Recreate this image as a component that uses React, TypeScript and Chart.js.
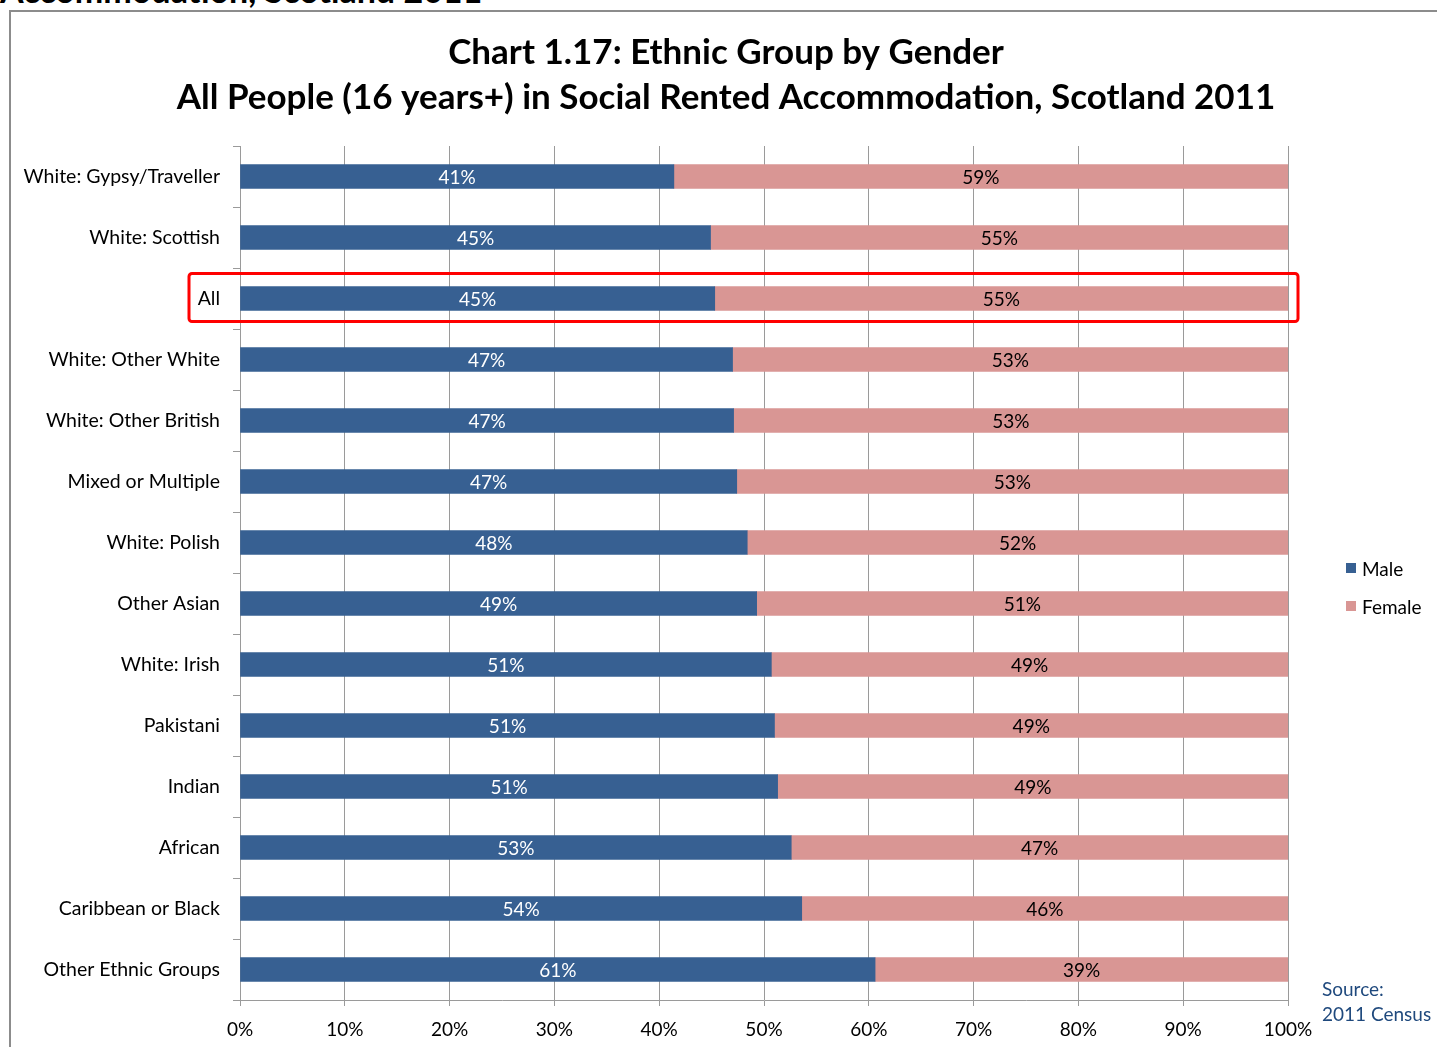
import React, { useEffect, useRef } from "react";
import { Chart, registerables } from "chart.js";

Chart.register(...registerables);

const categories = [
  "White: Gypsy/Traveller",
  "White: Scottish",
  "All",
  "White: Other White",
  "White: Other British",
  "Mixed or Multiple",
  "White: Polish",
  "Other Asian",
  "White: Irish",
  "Pakistani",
  "Indian",
  "African",
  "Caribbean or Black",
  "Other Ethnic Groups",
];
const maleValues = [41.4, 44.9, 45.3, 47.0, 47.1, 47.4, 48.4, 49.3, 50.7, 51.0, 51.3, 52.6, 53.6, 60.6];
const femaleValues = [58.6, 55.1, 54.7, 53.0, 52.9, 52.6, 51.6, 50.7, 49.3, 49.0, 48.7, 47.4, 46.4, 39.4];
const seriesNames = ["Male", "Female"];
const seriesColors = ["#376092", "#D99694"];
const labelColors = ["#FFFFFF", "#000000"];
const highlightCategory = "All";
const titleLines = [
  "Chart 1.17: Ethnic Group by Gender",
  "All People (16 years+) in Social Rented Accommodation, Scotland 2011",
];
const FONT = "Lato, 'Noto Sans', sans-serif";

const valueLabelPlugin = {
  id: "valueLabels",
  afterDatasetsDraw(chart: any) {
    const ctx = chart.ctx;
    ctx.save();
    ctx.font = `19px ${FONT}`;
    ctx.textAlign = "center";
    ctx.textBaseline = "middle";
    chart.data.datasets.forEach((ds: any, di: number) => {
      const meta = chart.getDatasetMeta(di);
      meta.data.forEach((el: any, i: number) => {
        const v = ds.data[i];
        const cx = (el.x + el.base) / 2;
        ctx.fillStyle = labelColors[di];
        ctx.fillText(Math.round(v) + "%", cx, el.y + 1);
      });
    });
    ctx.restore();
  },
};

const highlightPlugin = {
  id: "highlight",
  afterDraw(chart: any) {
    const idx = categories.indexOf(highlightCategory);
    if (idx < 0) return;
    const y = chart.scales.y.getPixelForValue(idx);
    const area = chart.chartArea;
    const ctx = chart.ctx;
    const x0 = area.left - 51;
    const x1 = area.right + 10;
    const y0 = y - 25;
    const y1 = y + 23;
    ctx.save();
    ctx.strokeStyle = "#FF0000";
    ctx.lineWidth = 3;
    ctx.beginPath();
    if (ctx.roundRect) ctx.roundRect(x0, y0, x1 - x0, y1 - y0, 3);
    else ctx.rect(x0, y0, x1 - x0, y1 - y0);
    ctx.stroke();
    ctx.restore();
  },
};

export default function App() {
  const canvasRef = useRef<HTMLCanvasElement | null>(null);

  useEffect(() => {
    if (!canvasRef.current) return;
    const chart = new Chart(canvasRef.current, {
      type: "bar",
      data: {
        labels: categories,
        datasets: [
          {
            label: seriesNames[0],
            data: maleValues,
            backgroundColor: seriesColors[0],
            barThickness: 24,
          },
          {
            label: seriesNames[1],
            data: femaleValues,
            backgroundColor: seriesColors[1],
            barThickness: 24,
          },
        ],
      },
      options: {
        indexAxis: "y",
        responsive: false,
        animation: false,
        layout: { padding: { left: 15, right: 0, top: 0, bottom: 0 } },
        plugins: {
          legend: { display: false },
          tooltip: { enabled: false },
          title: {
            display: true,
            text: titleLines,
            color: "#000000",
            font: { family: FONT, size: 35, weight: "bold", lineHeight: 45 / 35 },
            padding: { top: 30, bottom: 26 },
          },
        },
        scales: {
          x: {
            stacked: true,
            min: 0,
            max: 100,
            ticks: {
              stepSize: 10,
              callback: (v: any) => v + "%",
              color: "#000000",
              font: { family: FONT, size: 19 },
              padding: 12,
              maxRotation: 0,
            },
            grid: { color: "#9A9A9A", lineWidth: 1, tickLength: 6, drawTicks: true },
            border: { color: "#9A9A9A", width: 1 },
            afterFit: (scale: any) => {
              scale.height = 47;
            },
          },
          y: {
            stacked: true,
            ticks: {
              color: "#000000",
              font: { family: FONT, size: 19.5 },
              padding: 13,
            },
            grid: {
              offset: true,
              drawOnChartArea: false,
              drawTicks: true,
              tickLength: 7,
              color: "#9A9A9A",
            },
            border: { color: "#9A9A9A", width: 1 },
            afterFit: (scale: any) => {
              scale.width = 225;
            },
          },
          yRight: {
            type: "category",
            position: "right",
            display: true,
            ticks: { display: false },
            grid: { display: false, drawTicks: false },
            border: { display: false },
            afterFit: (scale: any) => {
              scale.width = 149;
            },
          },
        },
      } as any,
      plugins: [valueLabelPlugin, highlightPlugin],
    });
    return () => chart.destroy();
  }, []);

  return (
    <div
      style={{
        position: "absolute",
        left: 0,
        top: 0,
        width: 1437,
        height: 1047,
        overflow: "hidden",
        background: "#FFFFFF",
        fontFamily: FONT,
      }}
    >
      <div
        style={{
          position: "absolute",
          left: 0,
          top: -31,
          fontSize: 34,
          fontWeight: "bold",
          whiteSpace: "nowrap",
          color: "#000000",
          lineHeight: "normal",
        }}
      >
        Accommodation, Scotland 2011
      </div>
      <div
        style={{
          position: "absolute",
          left: 9,
          top: 10,
          width: 1500,
          height: 1100,
          border: "2px solid #8C8C8C",
          boxSizing: "border-box",
        }}
      />
      <canvas
        ref={canvasRef}
        width={1437}
        height={1047}
        style={{ position: "absolute", left: 0, top: 0, width: 1437, height: 1047 }}
      />
      {seriesNames.map((name, i) => (
        <div
          key={name}
          style={{
            position: "absolute",
            left: 1346,
            top: 556 + i * 38,
            height: 24,
            display: "flex",
            alignItems: "center",
            fontSize: 19,
            color: "#000000",
            whiteSpace: "nowrap",
          }}
        >
          <span
            style={{
              display: "inline-block",
              width: 10,
              height: 10,
              background: seriesColors[i],
              marginRight: 6,
            }}
          />
          {name}
        </div>
      ))}
      <div
        style={{
          position: "absolute",
          left: 1322,
          top: 976,
          fontSize: 19,
          lineHeight: "25px",
          color: "#1F497D",
          whiteSpace: "nowrap",
        }}
      >
        Source:
        <br />
        2011 Census
      </div>
    </div>
  );
}
